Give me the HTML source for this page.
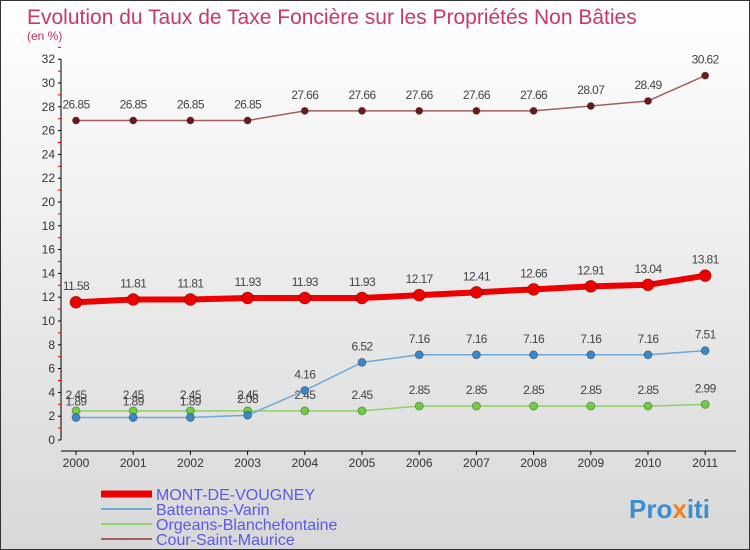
<!DOCTYPE html>
<html><head><meta charset="utf-8"><style>
body{margin:0;width:750px;height:550px;overflow:hidden;font-family:"Liberation Sans",sans-serif}
#wrap{position:relative;width:748px;height:548px;border:1px solid #333;background:linear-gradient(#fff,#d8d8d8)}
</style></head><body>
<div id="wrap">
<svg id="chart" width="748" height="548" style="position:absolute;left:0;top:0">
<text x="26" y="23" font-size="21" fill="#c8386a">Evolution du Taux de Taxe Foncière sur les Propriétés Non Bâties</text>
<text x="26" y="39" font-size="12" fill="#c03060">(en %)</text>
<g id="axes"></g><g id="series"></g>
<text x="628" y="517" font-size="26" font-weight="bold" fill="#3a8fd0">Pro<tspan fill="#f08020">x</tspan>iti</text>
</svg>
</div>
<script>
const years=["2000","2001","2002","2003","2004","2005","2006","2007","2008","2009","2010","2011"];
const yTicks=[0,2,4,6,8,10,12,14,16,18,20,22,24,26,28,30,32];
const mont=[11.58,11.81,11.81,11.93,11.93,11.93,12.17,12.41,12.66,12.91,13.04,13.81];
const batt=[1.89,1.89,1.89,2.08,4.16,6.52,7.16,7.16,7.16,7.16,7.16,7.51];
const orge=[2.45,2.45,2.45,2.45,2.45,2.45,2.85,2.85,2.85,2.85,2.85,2.99];
const cour=[26.85,26.85,26.85,26.85,27.66,27.66,27.66,27.66,27.66,28.07,28.49,30.62];
const NS="http://www.w3.org/2000/svg";
const X=i=>75+i*57.2, Y=v=>439-v*11.9;
function mk(p,t,a){const e=document.createElementNS(NS,t);for(const k in a)e.setAttribute(k,a[k]);p.appendChild(e);return e;}
const ax=document.getElementById('axes');
let yl=mk(ax,'line',{x1:60,y1:Y(32),x2:60,y2:Y(0),stroke:'#000'});


yTicks.forEach(v=>{
  mk(ax,'line',{x1:57,x2:60,y1:Y(v),y2:Y(v),stroke:'#000'});
  mk(ax,'line',{x1:57,x2:60,y1:Y(v+1),y2:Y(v+1),stroke:'#d00'});
  const t=mk(ax,'text',{x:54,y:Y(v)+4,'font-size':12,'text-anchor':'end',fill:'#333'});t.textContent=v;
  
  
});
let xl=mk(ax,'line',{x1:60,y1:450,x2:735,y2:450,stroke:'#000'});


years.forEach((y,i)=>{
  mk(ax,'line',{x1:X(i),x2:X(i),y1:450,y2:454,stroke:'#000'});
  const t=mk(ax,'text',{x:X(i),y:466,'font-size':12,'text-anchor':'middle',fill:'#333'});t.textContent=y;
  
  
});
const sg=document.getElementById('series');
function series(d,name,col,w,r,dot){
  const g=mk(sg,'g',{});
  
  
  mk(g,'polyline',{points:d.map((v,i)=>X(i)+','+Y(v)).join(' '),fill:'none',stroke:col,'stroke-width':w,'stroke-linejoin':'round'});
  d.forEach((v,i)=>{
    const c=mk(g,'circle',{cx:X(i),cy:Y(v),r:r,fill:dot,stroke:'rgba(0,0,0,0.3)'});
    
    
    const t=mk(g,'text',{x:X(i),y:Y(v)-12,'font-size':12,'text-anchor':'middle',fill:'#444','letter-spacing':'-0.6'});t.textContent=v;
    
    
  });
}
series(cour,'cour-saint-maurice','#a06060',1.5,3.5,'#6a1a1a');
series(orge,'orgeans','#8ed06a',1.5,4,'#70cc40');
series(batt,'battenans','#70a8d8',1.5,4,'#3a88c8');
series(mont,'mont-de-vougney','#ee0000',6,6,'#ee0000');
const leg=[['MONT-DE-VOUGNEY','#ee0000',7],['Battenans-Varin','#70a8d8',2],['Orgeans-Blanchefontaine','#8ed06a',2],['Cour-Saint-Maurice','#a06060',2]];
leg.forEach((l,i)=>{
  const y=493+i*15;
  const g=mk(sg,'g',{});
  
  
  mk(g,'line',{x1:100,x2:151,y1:y,y2:y,stroke:l[1],'stroke-width':l[2]});
  const t=mk(g,'text',{x:155,y:y+6,'font-size':16,fill:'#5a5ae8'});t.textContent=l[0];
});
</script>
</body></html>
